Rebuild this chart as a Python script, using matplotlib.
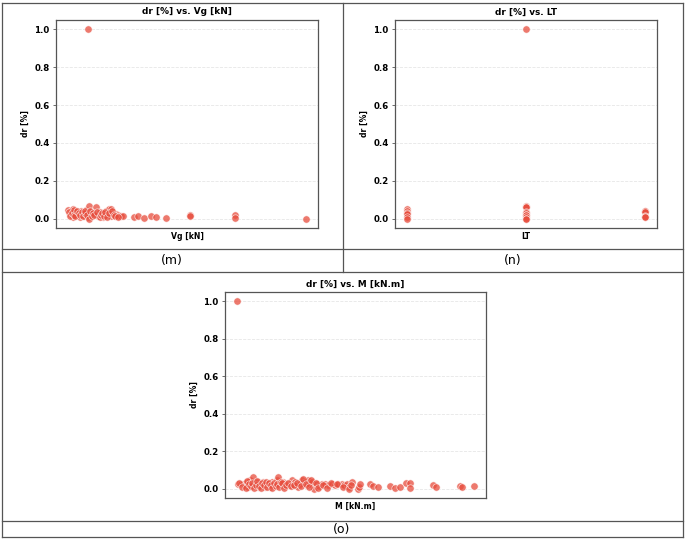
import matplotlib
matplotlib.use("Agg")
import matplotlib.pyplot as plt
from matplotlib.lines import Line2D

# ---------------- data ----------------
vg_kn = [11, 14.7, 18, 21, 21, 28, 31, 36, 38, 43, 48, 51, 52.7, 55, 58, 67, 68, 71.3, 74.7, 81,
         84.7, 88, 90, 92.7, 96.7, 98, 101, 108, 111, 114.7, 118, 121,
         13, 16, 19, 23, 24, 26, 29, 33, 35, 40, 41, 45, 46, 50, 53, 56, 60, 62, 64, 70, 76, 78,
         80, 83, 86, 89, 94, 99, 104, 106, 112,
         144, 152, 164, 178, 188, 208, 256, 256, 348, 348, 490, 52]
dr_vg = [0.046, 0.025, 0.039, 0.051, 0.007, 0.034, 0.025, 0.007, 0.042, 0.016, 0.046, 0.007, 0.066, 0.034,
         0.025, 0.060, 0.025, 0.016, 0.034, 0.007, 0.025, 0.042, 0.025, 0.051, 0.051, 0.016, 0.025, 0.025,
         0.021, 0.016, 0.016, 0.011,
         0.035, 0.015, 0.030, 0.045, 0.020, 0.012, 0.040, 0.030, 0.018, 0.035, 0.012, 0.028, 0.038, 0.020,
         0.000, 0.040, 0.015, 0.030, 0.020, 0.035, 0.010, 0.020, 0.030, 0.012, 0.035, 0.010, 0.030, 0.040,
         0.018, 0.012, 0.010,
         0.007, 0.012, 0.005, 0.012, 0.007, 0.005, 0.018, 0.012, 0.020, 0.005, 0.000, 1.0]

lt = [1, 1, 1, 1, 1, 1,
      2, 2, 2, 2, 2, 2, 2, 2, 2, 2, 2,
      3, 3, 3, 3, 3, 3]
dr_lt = [0.050, 0.040, 0.030, 0.025, 0.010, 0.000,
         1.0, 0.065, 0.060, 0.060, 0.035, 0.030, 0.020, 0.020, 0.010, 0.000, 0.000,
         0.040, 0.040, 0.035, 0.015, 0.010, 0.010]

m_knm = [25, 36, 45, 52, 59, 65, 72, 79, 85, 92, 99, 105, 112, 119, 125, 132, 139, 145, 152, 159, 165,
         172, 179, 185, 192, 199, 205, 212, 219, 232, 239, 245, 252, 259, 265, 272, 279, 292, 299, 305,
         312, 321, 329, 339, 348, 359, 372, 385, 399, 412, 425, 439, 449, 459, 468, 479,
         30, 40, 55, 62, 68, 75, 82, 88, 95, 102, 108, 115, 122, 128, 135, 142, 148, 155, 162, 168,
         175, 182, 188, 195, 202, 208, 215, 225, 235, 248, 262, 275, 285, 295, 310, 318, 335, 345,
         365, 380, 395, 420, 445, 470, 475,
         504, 506, 510, 552, 563, 584, 632, 652, 672, 696, 712, 712, 803, 816, 912, 919, 968, 20]
dr_m = [0.023, 0.023, 0.027, 0.018, 0.035, 0.009, 0.044, 0.027, 0.062, 0.018, 0.035, 0.009, 0.027,
        0.018, 0.035, 0.009, 0.027, 0.023, 0.009, 0.035, 0.018, 0.027, 0.044, 0.062, 0.027, 0.018,
        0.035, 0.012, 0.027, 0.018, 0.044, 0.027, 0.035, 0.018, 0.009, 0.027, 0.044, 0.035, 0.018,
        0.044, 0.027, 0.035, 0.000, 0.027, 0.012, 0.027, 0.023, 0.018, 0.023, 0.018, 0.027, 0.023,
        0.018, 0.027, 0.009, 0.035,
        0.030, 0.010, 0.005, 0.040, 0.025, 0.012, 0.030, 0.005, 0.020, 0.040, 0.015, 0.005, 0.030,
        0.020, 0.038, 0.010, 0.030, 0.020, 0.005, 0.032, 0.015, 0.025, 0.010, 0.035, 0.028, 0.005,
        0.020, 0.030, 0.012, 0.020, 0.030, 0.015, 0.050, 0.025, 0.010, 0.048, 0.030, 0.002, 0.020,
        0.005, 0.030, 0.025, 0.010, 0.000, 0.020,
        0.000, 0.009, 0.027, 0.027, 0.016, 0.009, 0.016, 0.004, 0.009, 0.030, 0.030, 0.004, 0.019,
        0.009, 0.016, 0.009, 0.012, 1.0]

titles = ["dr [%] vs. Vg [kN]", "dr [%] vs. LT", "dr [%] vs. M [kN.m]"]
xlabels = ["Vg [kN]", "LT", "M [kN.m]"]
ylabel = "dr [%]"
panel_labels = ["(m)", "(n)", "(o)"]
yticks = [0.0, 0.2, 0.4, 0.6, 0.8, 1.0]

# ---------------- figure ----------------
W, H = 685, 540
fig = plt.figure(figsize=(W / 100, H / 100), dpi=100)
fig.patch.set_facecolor("white")


def px_rect(x0, y0, x1, y1):
    return [x0 / W, 1 - y1 / H, (x1 - x0) / W, (y1 - y0) / H]


rects = [px_rect(56, 20, 318, 228), px_rect(395, 20, 657, 228), px_rect(225, 292, 486, 498)]
datasets = [(vg_kn, dr_vg), (lt, dr_lt), (m_knm, dr_m)]

for rect, (xs, ys), title, xl in zip(rects, datasets, titles, xlabels):
    ax = fig.add_axes(rect)
    ax.scatter(xs, ys, s=28, color="#e74c3c", alpha=0.75, edgecolors="white", linewidths=0.5, zorder=3)
    ax.set_title(title, fontsize=6.4, fontweight="bold", pad=4)
    ax.set_xlabel(xl, fontsize=5.6, fontweight="bold", labelpad=3)
    ax.set_ylabel(ylabel, fontsize=5.6, fontweight="bold", labelpad=3)
    ax.set_xticks([])
    ax.set_yticks(yticks)
    ax.set_yticklabels([f"{t:.1f}" for t in yticks], fontsize=6.2, fontweight="bold")
    ax.tick_params(axis="y", length=2.5, width=0.6, color="#555555", pad=2)
    ax.set_ylim(-0.05, 1.05)
    ax.margins(x=0.05)
    ax.grid(axis="y", linestyle="--", color="#e6e6e6", linewidth=0.6, zorder=0)
    for sp in ax.spines.values():
        sp.set_color("#555555")
        sp.set_linewidth(0.9)

# ---------------- table frame ----------------
lc = "#555555"
lw = 0.9


def hline(y, x0=2, x1=683):
    fig.add_artist(Line2D([x0 / W, x1 / W], [1 - y / H, 1 - y / H], color=lc, lw=lw))


def vline(x, y0, y1):
    fig.add_artist(Line2D([x / W, x / W], [1 - y0 / H, 1 - y1 / H], color=lc, lw=lw))


for y in [3, 249, 272, 521, 537]:
    hline(y)
vline(2, 3, 537)
vline(683, 3, 537)
vline(343, 3, 272)

fig.text(172 / W, 1 - 260.5 / H, panel_labels[0], ha="center", va="center", fontsize=9)
fig.text(513 / W, 1 - 260.5 / H, panel_labels[1], ha="center", va="center", fontsize=9)
fig.text(342 / W, 1 - 529 / H, panel_labels[2], ha="center", va="center", fontsize=9)

fig.savefig("out.png", dpi=100, facecolor="white")
